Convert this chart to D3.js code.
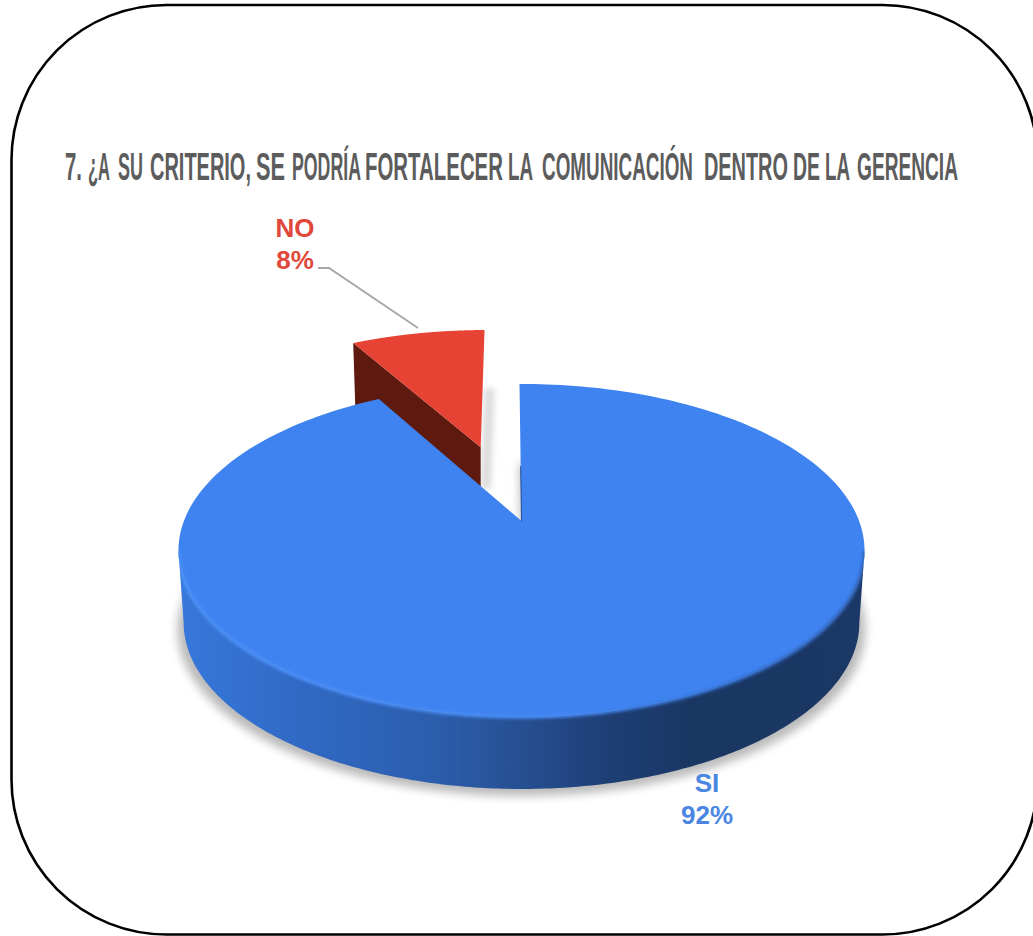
<!DOCTYPE html>
<html>
<head>
<meta charset="utf-8">
<style>
html,body{margin:0;padding:0;background:#fff;overflow:hidden}
svg{display:block}
text{font-family:"Liberation Sans",Arial,sans-serif;font-weight:700}
</style>
<script src="https://cdn.jsdelivr.net/npm/d3@7/dist/d3.min.js"></script>
</head>
<body>
<svg id="chart" width="1033" height="936"></svg>
<script>
// Survey answers for question 7
const categories = ["SI", "NO"];
const percentages = [92, 8];
const sliceColors = ["#3f83f1", "#e64335"];
const labelColors = ["#4a86e2", "#e2473b"];
const titleWords = ["7.", "¿A", "SU", "CRITERIO,", "SE", "PODRÍA", "FORTALECER", "LA", "COMUNICACIÓN", "DENTRO", "DE", "LA", "GERENCIA"];
const titleWordStarts = [65, 88, 118, 150, 256, 292, 365, 508, 542, 704, 793, 825, 857];
const titleWordEnds = [82, 110, 143, 251, 285, 361, 503, 533, 693, 788, 820, 850, 958];

const svg = d3.select("#chart");
const defs = svg.append("defs");
defs.append("filter").attr("id", "soft").attr("x", "-20%").attr("y", "-20%").attr("width", "140%").attr("height", "140%")
  .append("feGaussianBlur").attr("stdDeviation", 5);
defs.append("filter").attr("id", "softSmall").attr("x", "-100%").attr("y", "-50%").attr("width", "300%").attr("height", "200%")
  .append("feGaussianBlur").attr("stdDeviation", 3);
defs.append("filter").attr("id", "bevel").attr("x", "-5%").attr("y", "-5%").attr("width", "110%").attr("height", "110%")
  .append("feGaussianBlur").attr("stdDeviation", 1.4);

// Tilted-disc perspective: unit-disc coordinates to page coordinates
const discX = 521.5, discY = 521, spanX = 337.6, spanY = 161.3, tilt = -0.177;
const project = ([u, v]) => {
  const w = 1 + tilt * v;
  return [discX + spanX * u / w, discY + spanY * v / w];
};
const onRim = (angle, offset = [0, 0]) =>
  [Math.sin(angle) + offset[0], -Math.cos(angle) + offset[1]];

const rimAngles = (a0, a1) => d3.range(0, 241).map(i => a0 + (a1 - a0) * i / 240);
const line = d3.line();

const pie = d3.pie().sort(null).startAngle(-0.007).endAngle(2 * Math.PI - 0.007);
const arcs = pie(percentages);
const explode = 0.515, wallDepth = 72, backDepth = 62, baseShrink = 0.985;

const facePoints = (d, offset) => [
  project(offset),
  ...rimAngles(d.startAngle, d.endAngle).map(a => project(onRim(a, offset)))
];

// Lower edge of the disc, used by the side wall and the cast shadow
const lowered = ([x, y]) => [discX + (x - discX) * baseShrink, y + wallDepth];

// Widest points of the rim on screen bound the visible front wall
const sideAngle = d3.range(Math.PI * 0.4, Math.PI * 0.7, 0.001)
  .reduce((best, a) => project(onRim(a))[0] > project(onRim(best))[0] ? a : best, Math.PI * 0.4);
const frontRim = rimAngles(sideAngle, 2 * Math.PI - sideAngle).map(a => project(onRim(a)));

// Rounded card around the chart
svg.append("rect")
  .attr("x", 11.5).attr("y", 5).attr("width", 1026).attr("height", 929.5)
  .attr("rx", 155).attr("ry", 155)
  .attr("fill", "#fff").attr("stroke", "#000").attr("stroke-width", 2.6);

// Title in a condensed bold face: every word is squeezed into its own column
svg.append("g").attr("font-size", 38).attr("fill", "#5c5c5c")
  .selectAll("text").data(titleWords).join("text")
  .text(d => d)
  .attr("transform", function (d, i) {
    const squeeze = (titleWordEnds[i] - titleWordStarts[i]) / this.getComputedTextLength();
    return `translate(${titleWordStarts[i]},179.5) scale(${squeeze},1)`;
  });

const [si, no] = arcs;

// Cast shadow of the large slice: the notch stays clear
svg.append("path")
  .attr("d", line(facePoints(si, [0, 0]).map(lowered).map(([x, y]) => [discX + (x - discX) * 1.018, y + 7])) + "Z")
  .attr("fill", "#000").attr("opacity", 0.27).attr("filter", "url(#soft)");

const mid = (no.startAngle + no.endAngle) / 2;
const noOffset = [explode * Math.sin(mid), -explode * Math.cos(mid)];
const noFace = facePoints(no, noOffset);
const noApex = project(noOffset);
const noLeft = project(onRim(no.startAngle, noOffset));
const noRight = project(onRim(no.endAngle, noOffset));

// Cast shadow of the exploded slice, seen through the gap
svg.append("path")
  .attr("d", line([
    [noRight[0], noRight[1] + 58], [noRight[0] + 10, noRight[1] + 58],
    [noApex[0] + 10, noApex[1] + 42], [noApex[0], noApex[1] + 42]
  ]) + "Z")
  .attr("fill", "#000").attr("opacity", 0.14).attr("filter", "url(#softSmall)");

// NO slice: exposed cut wall, then the top face
svg.append("path")
  .attr("d", line([noLeft, noApex, [noApex[0], noApex[1] + backDepth], [noLeft[0] + 2, noLeft[1] + backDepth]]) + "Z")
  .attr("fill", "#5f1a10");
svg.append("path").attr("d", line(noFace) + "Z").attr("fill", sliceColors[1]);

// SI slice: front wall with a left-to-right shading, then the top face
const wallGradient = defs.append("linearGradient").attr("id", "wall")
  .attr("gradientUnits", "userSpaceOnUse").attr("x1", 179).attr("x2", 866).attr("y1", 0).attr("y2", 0);
[[0, "#3778db"], [0.18, "#3069c4"], [0.38, "#2c5dab"], [0.5, "#264f92"], [0.62, "#1e3f76"], [0.75, "#1a3662"], [1, "#1b3866"]]
  .forEach(([o, c]) => wallGradient.append("stop").attr("offset", o).attr("stop-color", c));
const bevelGradient = defs.append("linearGradient").attr("id", "bevelStroke")
  .attr("gradientUnits", "userSpaceOnUse").attr("x1", 179).attr("x2", 866).attr("y1", 0).attr("y2", 0);
[[0, "#4a90f7"], [0.55, "#4689f2"], [0.72, "#3a78dc"], [1, "#2f62b4"]]
  .forEach(([o, c]) => bevelGradient.append("stop").attr("offset", o).attr("stop-color", c));

const wallPath = line([...frontRim, ...frontRim.slice().reverse().map(lowered)]) + "Z";
const facePath = line(facePoints(si, [0, 0])) + "Z";
const bodyClip = defs.append("clipPath").attr("id", "discBody");
bodyClip.append("path").attr("d", wallPath);
bodyClip.append("path").attr("d", facePath);

svg.append("path").attr("d", wallPath).attr("fill", "url(#wall)");
svg.append("path").attr("d", facePath).attr("fill", sliceColors[0]);
svg.append("g").attr("clip-path", "url(#discBody)")
  .append("path")
  .attr("d", line(frontRim))
  .attr("fill", "none").attr("stroke", "url(#bevelStroke)").attr("stroke-width", 3.5)
  .attr("filter", "url(#bevel)");

// Thin dark edge along the lower part of the slice's straight side
const edgeTop = project(onRim(si.startAngle)), edgeEnd = project([0, 0]);
svg.append("path")
  .attr("d", line([d3.interpolate(edgeTop, edgeEnd)(0.6), edgeEnd]))
  .attr("stroke", "#1d4a94").attr("stroke-width", 1).attr("fill", "none");

// Leader line from the NO label to its slice
svg.append("path")
  .attr("d", line([[318, 268], [329, 268], [418, 328]]))
  .attr("fill", "none").attr("stroke", "#a6a6a6").attr("stroke-width", 1.8);

// Category and percentage labels
const labelSpots = [[707, 792, 824], [295, 237, 269]];
categories.forEach((name, i) => {
  const [x, y1, y2] = labelSpots[i];
  const label = svg.append("text").attr("text-anchor", "middle")
    .attr("font-size", 26).attr("fill", labelColors[i]);
  label.append("tspan").attr("x", x).attr("y", y1).text(name);
  label.append("tspan").attr("x", x).attr("y", y2).text(percentages[i] + "%");
});
</script>
</body>
</html>
